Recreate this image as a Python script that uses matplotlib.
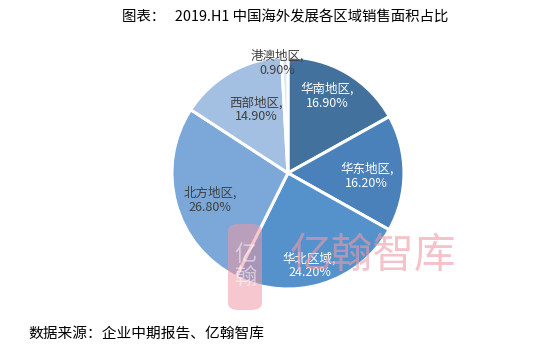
import matplotlib
matplotlib.use("Agg")
import matplotlib.pyplot as plt
from matplotlib.patches import FancyBboxPatch
import numpy as np

plt.rcParams['font.family'] = ['Noto Sans CJK SC', 'DejaVu Sans']

regions = ["华南地区", "华东地区", "华北区域", "北方地区", "西部地区", "港澳地区"]
shares = [16.9, 16.2, 24.2, 26.8, 14.9, 0.9]
title = "图表：   2019.H1 中国海外发展各区域销售面积占比"
source = "数据来源：企业中期报告、亿翰智库"

colors = ["#41719c", "#4a81ba", "#5592cc", "#7ba7d9", "#a3c0e3", "#dde7f3"]
text_colors = ["white", "white", "white", "#404040", "#404040", "#404040"]
# label placement: radius (fraction of pie radius) and angle offset from wedge middle (deg)
label_r = [0.744, 0.68, 0.82, 0.71, 0.61, 0.95]
label_dang = [3.5, -2.2, -4.0, 4.2, -3.4, 3.9]

fig = plt.figure(figsize=(5.34, 3.51), dpi=100)
ax = fig.add_axes([0.322, 0.1766, 0.4345, 0.661])
wedges, _ = ax.pie(shares, colors=colors, startangle=90, counterclock=False,
                   wedgeprops=dict(edgecolor="white", linewidth=2.2))
ax.set_xlim(-1, 1)
ax.set_ylim(-1, 1)
ax.set_aspect('equal')

for w, name, v, r, da, tc in zip(wedges, regions, shares, label_r, label_dang, text_colors):
    mid = np.deg2rad((w.theta1 + w.theta2) / 2 + da)
    ax.text(r * np.cos(mid), r * np.sin(mid), f"{name},\n{v:.2f}%", ha="center", va="center",
            fontsize=9, color=tc, linespacing=1.1)

fig.text(0.534, 0.949, title, ha="center", va="center", fontsize=10.4, color="#000000")
fig.text(0.054, 0.048, source, ha="left", va="center", fontsize=10.6, color="#000000")

# watermark
logo = FancyBboxPatch((228 / 534, 1 - 310 / 351), 34 / 534, 86 / 351,
                      boxstyle="round,pad=0,rounding_size=0.02", transform=fig.transFigure,
                      facecolor="#ef9aa6", edgecolor="none", alpha=0.55, zorder=5)
fig.patches.append(logo)
fig.text(245 / 534, 1 - 266 / 351, "亿\n翰", ha="center", va="center", fontsize=16,
         color="white", alpha=0.5, zorder=6, linespacing=1.0)
fig.text(373 / 534, 1 - 256 / 351, "亿翰智库", ha="center", va="center", fontsize=30,
         color="#ef9aa6", alpha=0.6, zorder=6)

fig.savefig("out.png", dpi=100)
